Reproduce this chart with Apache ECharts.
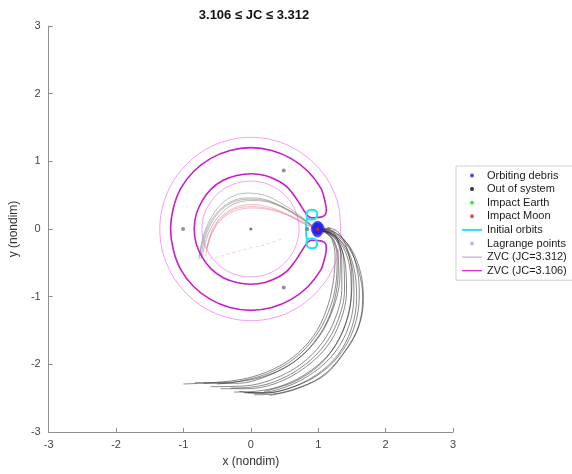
<!DOCTYPE html>
<html>
<head>
<meta charset="utf-8">
<script src="https://cdn.jsdelivr.net/npm/echarts@6/dist/echarts.min.js"></script>
<style>
  html, body { margin: 0; padding: 0; background: #fff; }
  #chart { width: 572px; height: 474px; }
</style>
</head>
<body>
<div id="chart"></div>
<script>
// Axis ticks (nondimensional rotating frame)
const xTicks = [-3, -2, -1, 0, 1, 2, 3];
const yTicks = [-3, -2, -1, 0, 1, 2, 3];

// Zero-velocity curve, JC = 3.312: outer ring, Earth region, Moon bubble
const zvc3312Outer = [
  [1.33, 0], [1.30, 0.35], [1.17, 0.675], [0.955, 0.955], [0.677, 1.172], [0.35, 1.308],
  [0, 1.355], [-0.35, 1.308], [-0.677, 1.172], [-0.955, 0.955], [-1.17, 0.675], [-1.305, 0.35],
  [-1.351, 0], [-1.305, -0.35], [-1.17, -0.675], [-0.955, -0.955], [-0.677, -1.172], [-0.35, -1.308],
  [0, -1.355], [0.35, -1.308], [0.677, -1.172], [0.955, -0.955], [1.17, -0.675], [1.30, -0.35], [1.33, 0]
];
const zvc3312Inner = [
  [0.718, 0], [0.69, 0.185], [0.617, 0.356], [0.502, 0.502], [0.355, 0.614], [0.184, 0.685],
  [0, 0.708], [-0.184, 0.685], [-0.357, 0.618], [-0.507, 0.507], [-0.622, 0.359], [-0.70, 0.187],
  [-0.725, 0], [-0.70, -0.187], [-0.622, -0.359], [-0.507, -0.507], [-0.357, -0.618], [-0.184, -0.685],
  [0, -0.708], [0.184, -0.685], [0.355, -0.614], [0.502, -0.502], [0.617, -0.356], [0.69, -0.185], [0.718, 0]
];
const zvc3312Moon = [
  [1.058, 0], [1.045, 0.045], [0.99, 0.068], [0.94, 0.05], [0.9175, 0],
  [0.94, -0.05], [0.99, -0.068], [1.045, -0.045], [1.058, 0]
];

// Zero-velocity curve, JC = 3.106: horseshoe opening at L1/L2
const zvc3106 = [
  [1.12, 0.30], [1.09, 0.45], [1.04, 0.60], [0.85, 0.85], [0.60, 1.04], [0.31, 1.16],
  [0, 1.203], [-0.31, 1.16], [-0.60, 1.04], [-0.85, 0.85], [-1.04, 0.60], [-1.15, 0.31],
  [-1.191, 0], [-1.15, -0.31], [-1.04, -0.60], [-0.85, -0.85], [-0.60, -1.04], [-0.31, -1.16],
  [0, -1.203], [0.31, -1.16], [0.60, -1.04], [0.85, -0.85], [1.04, -0.60], [1.09, -0.45], [1.12, -0.30],
  [1.11, -0.22], [1.06, -0.18], [0.99, -0.17], [0.90, -0.165], [0.84, -0.20], [0.79, -0.27],
  [0.72, -0.38], [0.64, -0.50], [0.54, -0.62], [0.41, -0.71], [0.21, -0.79], [0, -0.816],
  [-0.21, -0.79], [-0.41, -0.72], [-0.59, -0.59], [-0.72, -0.42], [-0.81, -0.22], [-0.84, 0],
  [-0.81, 0.22], [-0.72, 0.42], [-0.59, 0.59], [-0.41, 0.72], [-0.21, 0.79], [0, 0.816],
  [0.21, 0.79], [0.41, 0.71], [0.54, 0.62], [0.64, 0.50], [0.72, 0.38], [0.79, 0.27],
  [0.84, 0.20], [0.90, 0.165], [0.99, 0.17], [1.06, 0.18], [1.11, 0.22], [1.12, 0.30]
];

// Initial orbits near the Moon
const initialOrbits = [
  [[0.97, 0.16], [0.92, 0.14], [0.86, 0.145], [0.825, 0.20], [0.84, 0.26], [0.90, 0.285], [0.955, 0.275], [0.985, 0.225], [0.97, 0.16]],
  [[0.84, 0.16], [0.82, 0.08], [0.82, -0.08], [0.84, -0.16]],
  [[0.97, -0.16], [0.92, -0.14], [0.86, -0.145], [0.825, -0.20], [0.84, -0.26], [0.90, -0.285], [0.955, -0.275], [0.985, -0.225], [0.97, -0.16]]
];

// Libration points L1..L5 and the Earth
const lagrangePoints = [[0.837, 0], [1.156, 0], [-1.005, 0], [0.488, 0.866], [0.488, -0.866]];
const earthPoint = [[0, 0]];

// Final states
const orbitingDebris = [
  [0.99, 0.0], [0.965, 0.03], [1.01, 0.04], [1.02, -0.025], [0.975, -0.04],
  [0.955, -0.005], [1.03, 0.01], [0.99, 0.055], [0.99, -0.06], [1.0, -0.01]
];
const outOfSystem = [];
const impactEarth = [];
const impactMoon = [[0.99, 0.0], [0.995, -0.01]];

// Escaping trajectories (black)
const escapeTracks = [
  [[0.99, 0.00], [1.10, -0.05], [1.20, -0.15], [1.25, -0.40], [1.22, -0.80], [1.12, -1.20], [0.93, -1.58], [0.62, -1.90], [0.22, -2.12], [-0.25, -2.24], [-1.00, -2.29]],
  [[0.99, -0.01], [1.12, -0.06], [1.24, -0.18], [1.30, -0.45], [1.28, -0.85], [1.18, -1.25], [0.98, -1.62], [0.66, -1.95], [0.25, -2.17], [-0.20, -2.28], [-0.83, -2.27]],
  [[0.99, 0.01], [1.13, -0.05], [1.27, -0.17], [1.35, -0.45], [1.35, -0.88], [1.26, -1.30], [1.06, -1.68], [0.74, -2.00], [0.33, -2.22], [-0.10, -2.32], [-0.60, -2.33]],
  [[1.00, 0.00], [1.15, -0.06], [1.30, -0.20], [1.40, -0.50], [1.42, -0.92], [1.33, -1.36], [1.12, -1.75], [0.80, -2.05], [0.40, -2.27], [-0.05, -2.36], [-0.45, -2.36]],
  [[1.00, -0.01], [1.17, -0.06], [1.34, -0.22], [1.46, -0.52], [1.49, -0.95], [1.41, -1.40], [1.20, -1.80], [0.88, -2.10], [0.48, -2.31], [0.05, -2.40], [-0.25, -2.41]],
  [[1.00, 0.00], [1.20, -0.07], [1.40, -0.25], [1.53, -0.58], [1.57, -1.00], [1.50, -1.45], [1.30, -1.85], [0.98, -2.15], [0.58, -2.35], [0.15, -2.43], [-0.17, -2.40]],
  [[1.00, 0.00], [1.22, -0.06], [1.45, -0.27], [1.60, -0.62], [1.66, -1.00], [1.60, -1.43], [1.40, -1.80], [1.11, -2.15], [0.72, -2.34], [0.32, -2.44], [0.05, -2.45]],
  [[0.99, 0.00], [1.11, -0.04], [1.22, -0.16], [1.28, -0.42], [1.26, -0.83], [1.15, -1.23], [0.95, -1.60], [0.64, -1.92], [0.24, -2.14], [-0.22, -2.26], [-0.50, -2.29]],
  [[1.00, 0.00], [1.18, -0.05], [1.37, -0.23], [1.50, -0.55], [1.53, -0.97], [1.46, -1.42], [1.25, -1.82], [0.93, -2.12], [0.53, -2.33], [0.10, -2.42], [-0.05, -2.42]],
  [[1.00, 0.00], [1.24, -0.05], [1.48, -0.28], [1.63, -0.65], [1.67, -1.05], [1.58, -1.50], [1.36, -1.86], [1.05, -2.18], [0.66, -2.37], [0.28, -2.46]],
  [[0.99, 0.00], [1.14, -0.04], [1.29, -0.16], [1.38, -0.46], [1.39, -0.90], [1.30, -1.33], [1.09, -1.72], [0.77, -2.03], [0.37, -2.25], [-0.02, -2.34], [-0.30, -2.35]],
  [[0.99, 0.00], [1.16, 0.01], [1.30, -0.05], [1.43, -0.30], [1.50, -0.70], [1.47, -1.15], [1.32, -1.60], [1.05, -1.98], [0.66, -2.25], [0.20, -2.40]],
  [[0.99, 0.00], [1.13, 0.00], [1.26, -0.10], [1.33, -0.35], [1.32, -0.75], [1.22, -1.18], [1.02, -1.58], [0.70, -1.92], [0.28, -2.15], [-0.15, -2.25], [-0.70, -2.28]],
  [[1.00, 0.00], [1.21, -0.03], [1.42, -0.20], [1.56, -0.52], [1.61, -0.95], [1.55, -1.40], [1.36, -1.80], [1.05, -2.12], [0.64, -2.33], [0.22, -2.42], [-0.10, -2.42]]
];

// Trajectories bending back around the Earth
const archTracksGrey = [
  [[0.92, 0.04], [0.75, 0.15], [0.50, 0.30], [0.25, 0.40], [0.00, 0.42], [-0.25, 0.37], [-0.45, 0.22], [-0.60, 0.00], [-0.68, -0.22], [-0.72, -0.42]],
  [[0.90, 0.06], [0.70, 0.22], [0.45, 0.38], [0.20, 0.50], [-0.05, 0.53], [-0.30, 0.47], [-0.50, 0.30], [-0.65, 0.05], [-0.73, -0.20], [-0.76, -0.40]],
  [[0.90, 0.05], [0.70, 0.20], [0.45, 0.34], [0.20, 0.44], [-0.05, 0.46], [-0.30, 0.40], [-0.52, 0.22], [-0.66, -0.02], [-0.74, -0.30], [-0.77, -0.45]],
  [[0.91, 0.05], [0.72, 0.18], [0.48, 0.32], [0.22, 0.42], [-0.03, 0.44], [-0.28, 0.39], [-0.49, 0.23], [-0.63, 0.00], [-0.71, -0.25], [-0.74, -0.44]]
];
const archTracksRed = [
  [[0.93, 0.02], [0.78, 0.08], [0.55, 0.20], [0.30, 0.28], [0.05, 0.31], [-0.20, 0.28], [-0.42, 0.16], [-0.57, -0.05], [-0.64, -0.25], [-0.67, -0.40]],
  [[0.93, 0.03], [0.75, 0.12], [0.50, 0.24], [0.25, 0.33], [0.00, 0.36], [-0.25, 0.31], [-0.45, 0.17], [-0.58, -0.03], [-0.66, -0.30]],
  [[0.93, 0.02], [0.76, 0.10], [0.52, 0.22], [0.28, 0.30], [0.02, 0.33], [-0.22, 0.30], [-0.43, 0.17], [-0.575, -0.04], [-0.65, -0.28]],
  [[0.97, 0.01], [1.05, -0.01], [1.15, -0.03], [1.25, -0.02]],
  [[-0.62, -0.45], [-0.30, -0.36], [0.00, -0.28], [0.25, -0.22], [0.45, -0.15]]
];

const FONT = 'Liberation Sans, Arial, sans-serif';

function pathSeries(name, data, color, width, z, extra) {
  return Object.assign({
    type: 'line', name: name, data: data, symbol: 'none', showSymbol: false,
    smooth: 0.35, silent: true, z: z, animation: false,
    lineStyle: { color: color, width: width },
    itemStyle: { color: color }
  }, extra || {});
}

const series = [];

escapeTracks.forEach(function (t, i) {
  series.push(pathSeries('escape-' + i, t, 'rgba(25,25,25,0.5)', 1, 2));
});
archTracksGrey.forEach(function (t, i) {
  series.push(pathSeries('arch-grey-' + i, t, 'rgba(60,60,60,0.35)', 1, 2));
});
archTracksRed.forEach(function (t, i) {
  series.push(pathSeries('arch-red-' + i, t, 'rgba(225,90,110,0.4)', 1, 2,
    i === 4 ? { lineStyle: { color: 'rgba(225,90,110,0.3)', width: 1, type: [3, 3] } } : null));
});

series.push(pathSeries('ZVC (JC=3.312)', zvc3312Outer, 'rgba(235,80,235,0.55)', 1, 3));
series.push(pathSeries('ZVC (JC=3.312)', zvc3312Inner, 'rgba(235,80,235,0.55)', 1, 3));
series.push(pathSeries('ZVC (JC=3.312)', zvc3312Moon, 'rgba(235,80,235,0.55)', 1, 3));
series.push(pathSeries('ZVC (JC=3.106)', zvc3106, '#c81ec8', 1.6, 4, { smooth: 0.3 }));

initialOrbits.forEach(function (t) {
  series.push(pathSeries('Initial orbits', t, '#22e4f0', 2, 5));
});

function dotSeries(name, data, color, size, z, extra) {
  return Object.assign({
    type: 'scatter', name: name, data: data, symbol: 'circle', symbolSize: size,
    silent: true, z: z, animation: false,
    itemStyle: { color: color }
  }, extra || {});
}

series.push(dotSeries('Lagrange points', lagrangePoints, '#7d6f8c', 4, 6));
series.push(dotSeries('Earth', earthPoint, '#555555', 3, 6));
series.push(dotSeries('Orbiting debris', orbitingDebris, 'rgba(35,35,235,0.85)', 9, 7));
series.push(dotSeries('Out of system', outOfSystem, '#000000', 4, 7));
series.push(dotSeries('Impact Earth', impactEarth, '#00ee00', 4, 7));
series.push(dotSeries('Impact Moon', impactMoon, '#e02020', 3, 8));

const axisCommon = {
  type: 'value', min: -3, max: 3, interval: 1,
  axisLine: { show: true, onZero: false, lineStyle: { color: '#8f8f8f', width: 1 } },
  axisTick: { show: true, inside: true, length: 4, lineStyle: { color: '#8f8f8f' } },
  splitLine: { show: false },
  axisLabel: { color: '#444', fontSize: 11, fontFamily: FONT },
  nameLocation: 'middle',
  nameTextStyle: { color: '#333', fontSize: 12, fontFamily: FONT }
};

// thin bar icons for line entries in the legend
const ICON_THIN = 'path://M0 0H20V1.2H0Z';
const ICON_MID = 'path://M0 0H20V2H0Z';

const option = {
  backgroundColor: '#ffffff',
  animation: false,
  title: {
    text: '3.106 \u2264 JC \u2264 3.312',
    left: 249, top: 4, textAlign: 'center',
    textStyle: { fontSize: 13, fontWeight: 'bold', color: '#111', fontFamily: FONT }
  },
  grid: { left: 45, right: 119, top: 26, bottom: 42, containLabel: false },
  xAxis: Object.assign({}, axisCommon, {
    name: 'x (nondim)', nameGap: 24,
    axisLabel: Object.assign({}, axisCommon.axisLabel, {
      margin: 7, formatter: function (v) { return xTicks.indexOf(v) >= 0 ? String(v) : ''; }
    })
  }),
  yAxis: Object.assign({}, axisCommon, {
    name: 'y (nondim)', nameGap: 17, nameRotate: 90,
    axisLabel: Object.assign({}, axisCommon.axisLabel, {
      margin: 8, formatter: function (v) { return yTicks.indexOf(v) >= 0 ? String(v) : ''; }
    })
  }),
  legend: {
    orient: 'vertical', left: 456, top: 166,
    padding: [4, 6, 4, 6], itemGap: 2.6, itemWidth: 20, itemHeight: 4,
    borderColor: '#d0d0d0', borderWidth: 1, backgroundColor: '#ffffff',
    textStyle: { fontSize: 11, color: '#1a1a1a', fontFamily: FONT },
    selectedMode: false,
    data: [
      { name: 'Orbiting debris', icon: 'circle', itemStyle: { color: '#2323eb' } },
      { name: 'Out of system', icon: 'circle' },
      { name: 'Impact Earth', icon: 'circle' },
      { name: 'Impact Moon', icon: 'circle' },
      { name: 'Initial orbits', icon: ICON_MID },
      { name: 'Lagrange points', icon: 'circle', itemStyle: { color: '#b3a6d6' } },
      { name: 'ZVC (JC=3.312)', icon: ICON_THIN, itemStyle: { color: '#c9a6d9' } },
      { name: 'ZVC (JC=3.106)', icon: ICON_THIN }
    ]
  },
  series: series
};

const chart = echarts.init(document.getElementById('chart'), null, { renderer: 'canvas' });
chart.setOption(option);
</script>
</body>
</html>
